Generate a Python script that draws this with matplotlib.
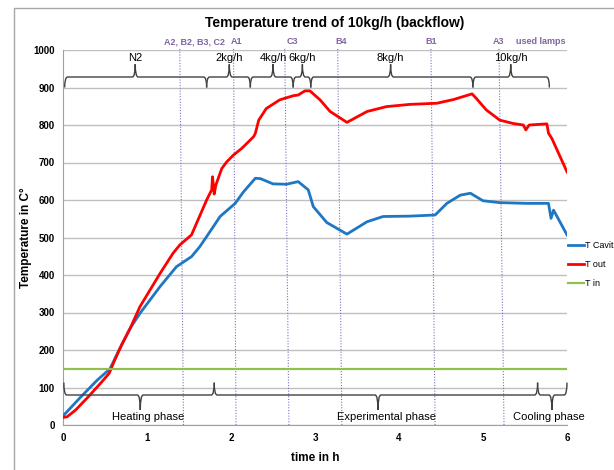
import numpy as np
import matplotlib.pyplot as plt
from matplotlib.path import Path
from matplotlib.patches import PathPatch, Rectangle

plt.rcParams['font.family'] = ['Liberation Sans', 'DejaVu Sans']

# 数据
t_out_h = [0.0, 0.05, 0.15, 0.3, 0.45, 0.55, 0.6, 0.7, 0.8, 0.917, 1.155, 1.31, 1.39, 1.53, 1.59,
           1.71, 1.77, 1.78, 1.80, 1.82, 1.89, 1.95, 2.03, 2.13, 2.27, 2.29, 2.33, 2.42, 2.58,
           2.74, 2.80, 2.88, 2.94, 3.06, 3.18, 3.38, 3.62, 3.85, 4.13, 4.45, 4.65, 4.87, 4.92,
           5.04, 5.20, 5.36, 5.48, 5.51, 5.55, 5.76, 5.78, 5.82, 6.0]
t_out = [20, 22, 40, 75, 112, 138, 165, 215, 258, 316, 404, 458, 480, 507, 538,
         600, 627, 662, 616, 640, 684, 702, 720, 738, 769, 778, 813, 844, 867,
         878, 880, 891, 891, 867, 836, 807, 836, 849, 855, 858, 868, 883, 871,
         840, 813, 804, 800, 787, 800, 803, 778, 764, 675]

t_cav_h = [0.0, 0.1, 0.2, 0.3, 0.4, 0.5, 0.56, 0.65, 0.8, 0.917, 1.155, 1.35, 1.53, 1.63, 1.79,
           1.87, 2.05, 2.15, 2.29, 2.35, 2.50, 2.66, 2.80, 2.92, 2.98, 3.00, 3.14, 3.38,
           3.62, 3.81, 4.13, 4.43, 4.57, 4.73, 4.85, 5.00, 5.20, 5.52, 5.78, 5.81, 5.84, 6.0]
t_cav = [24, 48, 72, 95, 118, 138, 150, 192, 258, 298, 369, 422, 449, 476, 529,
         556, 591, 622, 658, 657, 643, 642, 649, 627, 582, 577, 540, 509,
         542, 556, 557, 560, 591, 613, 618, 598, 593, 591, 591, 551, 573, 507]

t_in_h = [0, 6]
t_in = [150, 150]

# 灯的位置（虚线底部/顶部，略倾斜）
lamp_labels = ['A2, B2, B3, C2', 'A1', 'C3', 'B4', 'B1', 'A3']
lamp_label_x = [1.56, 2.07, 2.73, 3.31, 4.38, 5.19]
lamp_x_bottom = [1.435, 2.06, 2.69, 3.32, 4.43, 5.25]
lamp_x_top = [1.39, 2.03, 2.64, 3.27, 4.38, 5.19]

# 流量分段（上方括号）
flow_labels = ['N2', '2kg/h', '4kg/h', '6kg/h', '8kg/h', '10kg/h']
flow_edges = [0.02, 1.71, 2.23, 2.74, 2.95, 4.88, 5.79]
flow_tips = [0.86, 1.98, 2.50, 2.85, 3.90, 5.33]

# 阶段（下方括号）
phase_labels = ['Heating phase', 'Experimental phase', 'Cooling phase']
phase_edges = [0.01, 1.80, 5.65, 6.0]
phase_tips = [0.92, 3.75, 5.82]
phase_label_x = [1.01, 3.85, 5.79]


def brace(ax, x0, x1, xt, y_end, y_mid, y_tip, dx=0.035):
    verts = [(x0, y_end), (x0, y_mid), (x0 + dx, y_mid),
             (xt - dx, y_mid), (xt, y_mid), (xt, y_tip),
             (xt, y_mid), (xt + dx, y_mid),
             (x1 - dx, y_mid), (x1, y_mid), (x1, y_end)]
    codes = [Path.MOVETO, Path.CURVE3, Path.CURVE3,
             Path.LINETO, Path.CURVE3, Path.CURVE3,
             Path.CURVE3, Path.CURVE3,
             Path.LINETO, Path.CURVE3, Path.CURVE3]
    ax.add_patch(PathPatch(Path(verts, codes), fill=False, edgecolor='#404040',
                           lw=1.0, clip_on=False, zorder=4))


fig = plt.figure(figsize=(6.14, 4.70), dpi=100)
fig.patches.append(Rectangle((14 / 614, -0.1), 1.2, 1.1 - 8 / 470, transform=fig.transFigure,
                             fill=False, edgecolor='#A6A6A6', lw=1.0))
ax = fig.add_axes([63 / 614, 45 / 470, 504 / 614, 375 / 470])

ax.plot(t_cav_h, t_cav, color='#1F77C4', lw=2.0, label='T Cavit', zorder=3)
ax.plot(t_out_h, t_out, color='#FF0000', lw=2.0, label='T out', zorder=3)
ax.plot(t_in_h, t_in, color='#92C050', lw=1.6, label='T in', zorder=3)

for xb, xt in zip(lamp_x_bottom, lamp_x_top):
    ax.plot([xb, xt], [0, 1005], color='#7F6FC0', lw=0.8, ls=(0, (1, 1.5)), clip_on=False, zorder=2)
for lab, x in zip(lamp_labels, lamp_label_x):
    ax.text(x, 1022, lab, color='#8064A2', fontsize=6.5, fontweight='bold', ha='center', va='center')
ax.text(5.69, 1022, 'used lamps', color='#8064A2', fontsize=6.5, fontweight='bold', ha='center', va='center')

for i, lab in enumerate(flow_labels):
    brace(ax, flow_edges[i], flow_edges[i + 1], flow_tips[i], 900, 928, 962)
    ax.text(flow_tips[i], 978, lab, fontsize=8, ha='center', va='center')

for i, lab in enumerate(phase_labels):
    brace(ax, phase_edges[i], phase_edges[i + 1], phase_tips[i], 113, 80, 40)
    ax.text(phase_label_x[i], 22, lab, fontsize=8, ha='center', va='center')

ax.set_xlim(0, 6)
ax.set_ylim(0, 1000)
ax.set_yticks(np.arange(0, 1001, 100))
ax.set_xticks(np.arange(0, 7, 1))
ax.grid(axis='y', color='#BFBFBF', lw=1.0)
ax.set_axisbelow(True)
for s in ['top', 'right']:
    ax.spines[s].set_visible(False)
ax.spines['left'].set_color('#A0A0A0')
ax.spines['bottom'].set_color('#A0A0A0')
ax.tick_params(length=0, labelsize=7, pad=6)
for lbl in ax.get_xticklabels() + ax.get_yticklabels():
    lbl.set_fontweight('bold')

ax.set_xlabel('time in h', fontsize=8.5, fontweight='bold', labelpad=6)
ax.set_ylabel('Temperature in C°', fontsize=8.5, fontweight='bold', labelpad=1)
fig.text(0.545, 1 - 23 / 470, 'Temperature trend of 10kg/h (backflow)', fontsize=10,
         fontweight='bold', ha='center', va='center')

ax.legend(loc='upper left', bbox_to_anchor=(0.995, 0.5), frameon=False, fontsize=6.5,
          handlelength=1.8, handletextpad=0.1, labelspacing=1.1, borderaxespad=0)

fig.savefig('out.png', dpi=100)
